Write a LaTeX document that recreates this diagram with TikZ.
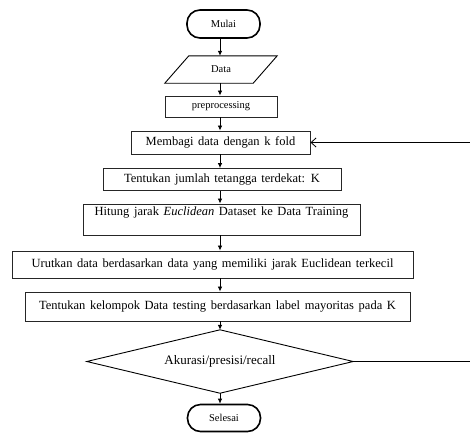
\documentclass[tikz,border=0pt]{standalone}
\usepackage{fontspec}
\setmainfont{Liberation Serif}
\usetikzlibrary{arrows.meta,calc}
\newcommand\myboxfont{\fontsize{12.5}{14}\selectfont\spaceskip=0.37em\relax}
\begin{document}
\begin{tikzpicture}[x=1pt,y=-1pt,
 box/.style={draw=black!85, line width=0.9pt, rectangle, inner sep=0pt, font=\myboxfont},
 term/.style={draw=black, line width=1.6pt, rounded corners=13pt, inner sep=0pt, font=\fontsize{10.5}{12}\selectfont},
 smalltxt/.style={font=\fontsize{10.5}{12}\selectfont},
 arr/.style={-{Latex[length=5pt,width=4.5pt]}, line width=0.8pt},
 back/.style={-{Straight Barb[length=5pt,width=9pt]}, line width=0.8pt}]
\useasboundingbox (0,0) rectangle (470,432);
\coordinate (axis) at (220,0);
\coordinate (rt) at (471.5,0);
\node[term, minimum width=73, minimum height=28] (mulai) at (223.5,24) {Mulai};
\node[smalltxt, minimum width=112, minimum height=27, inner sep=0pt] (data) at (221,69.5) {Data};
\draw[line width=0.9pt] (data.south west) -- ($(data.south east)+(-24,0)$) -- (data.north east) -- ($(data.north west)+(24,0)$) -- cycle;
\node[box, smalltxt, minimum width=112, minimum height=21] (pre) at (221,106.5) {preprocessing};
\node[box, minimum width=179, minimum height=23] (bagi) at (220.5,142.5) {Membagi data dengan k fold};
\node[box, minimum width=238, minimum height=22] (tentu) at (222,179.5) {Tentukan jumlah tetangga terdekat: K};
\node[box, minimum width=277, minimum height=31, text height=9pt, text depth=17pt] (hitung) at (221.5,219.5) {Hitung jarak \textit{Euclidean} Dataset ke Data Training};
\node[box, minimum width=401, minimum height=27] (urut) at (212.5,264.5) {Urutkan data berdasarkan data yang memiliki jarak Euclidean terkecil};
\node[box, minimum width=385, minimum height=29] (kel) at (217.5,306.5) {Tentukan kelompok Data testing berdasarkan label mayoritas pada K};
\node[font=\fontsize{13}{15}\selectfont, minimum width=266, minimum height=63, inner sep=0pt] (acc) at (220,361.5) {Akurasi/presisi/recall};
\draw[line width=0.9pt] (acc.west) -- (acc.north) -- (acc.east) -- (acc.south) -- cycle;
\node[term, minimum width=73, minimum height=27] (selesai) at (224,418) {Selesai};
\draw[arr] (mulai.south -| axis) -- (data.north -| axis);
\draw[arr] (data.south -| axis) -- (pre.north -| axis);
\draw[arr] (pre.south -| axis) -- (bagi.north -| axis);
\draw[arr] (bagi.south -| axis) -- (tentu.north -| axis);
\draw[arr] (tentu.south -| axis) -- (hitung.north -| axis);
\draw[arr] (hitung.south -| axis) -- (urut.north -| axis);
\draw[arr] (urut.south -| axis) -- (kel.north -| axis);
\draw[arr] (kel.south -| axis) -- (acc.north -| axis);
\draw[arr] (acc.south -| axis) -- (selesai.north -| axis);
\draw[back] (acc.east) -- (acc.east -| rt) -- (bagi.east -| rt) -- (bagi.east);
\end{tikzpicture}
\end{document}
